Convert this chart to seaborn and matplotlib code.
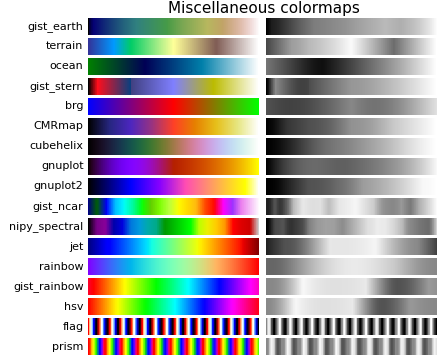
import numpy as np
import matplotlib
matplotlib.use("Agg")
import matplotlib.pyplot as plt
import seaborn as sns

cmap_names = ['gist_earth', 'terrain', 'ocean', 'gist_stern', 'brg', 'CMRmap',
              'cubehelix', 'gnuplot', 'gnuplot2', 'gist_ncar', 'nipy_spectral',
              'jet', 'rainbow', 'gist_rainbow', 'hsv', 'flag', 'prism']
title = 'Miscellaneous colormaps'
n_steps = 256

sns.set_style('white')
plt.rcParams['font.family'] = ['DejaVu Sans']
plt.rcParams['text.color'] = 'black'


def lightness(rgb):
    c = np.where(rgb <= 0.04045, rgb / 12.92, ((rgb + 0.055) / 1.055) ** 2.4)
    Y = 0.2126 * c[:, 0] + 0.7152 * c[:, 1] + 0.0722 * c[:, 2]
    f = np.where(Y > 216 / 24389, np.cbrt(Y), (24389 / 27 * Y + 16) / 116)
    return 116 * f - 16


gradient = np.linspace(0, 1, n_steps)
grad2d = np.vstack([gradient, gradient])

nrows = len(cmap_names)
fig, axs = plt.subplots(nrows=nrows, ncols=2, figsize=(4.4, 3.6), dpi=100)
fig.subplots_adjust(top=0.95, bottom=0.014, left=0.2, right=0.993,
                    wspace=0.04, hspace=0.2)

for i, name in enumerate(cmap_names):
    cmap = matplotlib.colormaps[name]
    ax0, ax1 = axs[i]
    sns.heatmap(grad2d, cmap=cmap, vmin=0, vmax=1, cbar=False, ax=ax0,
                xticklabels=False, yticklabels=False)
    L = lightness(cmap(gradient)[:, :3])
    sns.heatmap(np.vstack([L, L]), cmap='binary_r', vmin=0, vmax=100,
                cbar=False, ax=ax1, xticklabels=False, yticklabels=False)
    for ax in (ax0, ax1):
        ax.set_axis_off()
    pos = ax0.get_position()
    fig.text(pos.x0 - 0.01, pos.y0 + pos.height / 2, name,
             va='center', ha='right', fontsize=8, color='black')

fig.text(0.6, 0.997, title, ha='center', va='top', fontsize=11, color='black')

fig.savefig('out.png', dpi=100)
